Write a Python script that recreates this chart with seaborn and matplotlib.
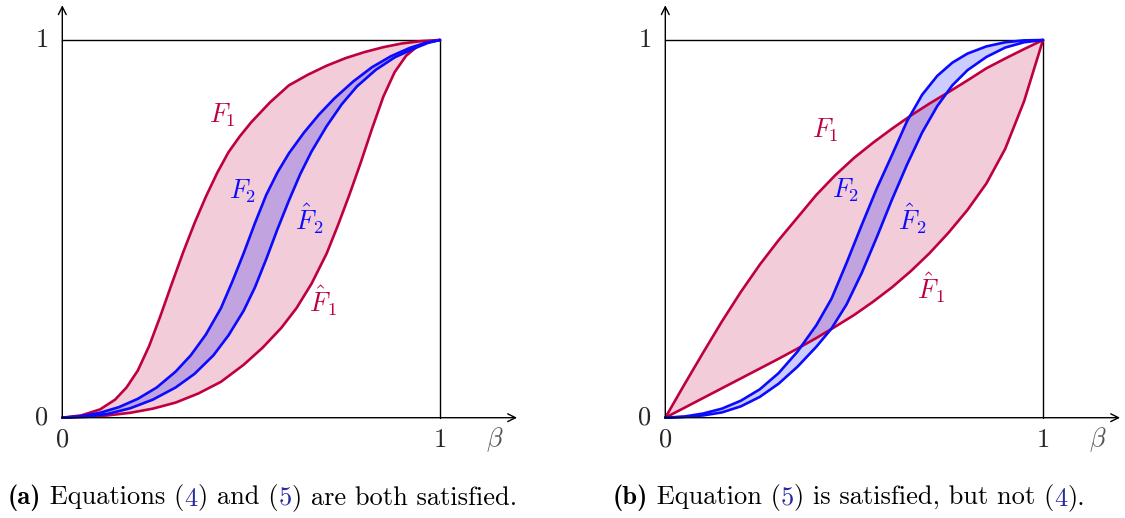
import matplotlib
matplotlib.use("Agg")
import matplotlib.pyplot as plt
import seaborn as sns

# curve points, (beta, F) pairs
# panel (a)
a_F1_x = [0, 0.05, 0.10, 0.14, 0.17, 0.20, 0.23, 0.26, 0.29, 0.32, 0.35, 0.38, 0.41, 0.44, 0.47, 0.50, 0.55, 0.60, 0.65, 0.70, 0.75, 0.80, 0.85, 0.90, 0.95, 1.0]
a_F1_y = [0, 0.006, 0.022, 0.048, 0.080, 0.125, 0.190, 0.270, 0.355, 0.438, 0.515, 0.585, 0.648, 0.703, 0.745, 0.782, 0.835, 0.880, 0.908, 0.932, 0.952, 0.968, 0.981, 0.991, 0.997, 1.0]
a_Fh1_x = [0, 0.06, 0.12, 0.18, 0.24, 0.30, 0.36, 0.42, 0.48, 0.53, 0.58, 0.62, 0.66, 0.70, 0.73, 0.76, 0.79, 0.82, 0.85, 0.88, 0.91, 0.94, 0.97, 1.0]
a_Fh1_y = [0, 0.002, 0.006, 0.013, 0.024, 0.040, 0.064, 0.095, 0.140, 0.185, 0.238, 0.290, 0.355, 0.435, 0.510, 0.590, 0.675, 0.765, 0.850, 0.915, 0.958, 0.983, 0.996, 1.0]
a_F2_x = [0, 0.05, 0.10, 0.15, 0.20, 0.25, 0.30, 0.34, 0.38, 0.42, 0.45, 0.48, 0.51, 0.54, 0.57, 0.60, 0.64, 0.68, 0.72, 0.77, 0.82, 0.87, 0.92, 0.96, 1.0]
a_F2_y = [0, 0.004, 0.013, 0.028, 0.050, 0.080, 0.122, 0.165, 0.220, 0.290, 0.360, 0.435, 0.515, 0.590, 0.650, 0.700, 0.755, 0.803, 0.845, 0.890, 0.928, 0.957, 0.979, 0.992, 1.0]
a_Fh2_x = [0, 0.06, 0.12, 0.18, 0.24, 0.30, 0.35, 0.40, 0.44, 0.48, 0.51, 0.54, 0.57, 0.60, 0.63, 0.66, 0.70, 0.74, 0.78, 0.83, 0.88, 0.93, 0.97, 1.0]
a_Fh2_y = [0, 0.003, 0.010, 0.025, 0.048, 0.080, 0.116, 0.165, 0.218, 0.283, 0.345, 0.420, 0.500, 0.575, 0.645, 0.705, 0.772, 0.830, 0.877, 0.921, 0.954, 0.977, 0.993, 1.0]

# panel (b)
b_F1_x = [0, 0.05, 0.10, 0.15, 0.20, 0.25, 0.30, 0.35, 0.40, 0.45, 0.50, 0.55, 0.60, 0.65, 0.70, 0.75, 0.80, 0.85, 0.90, 0.95, 1.0]
b_F1_y = [0, 0.087, 0.172, 0.255, 0.333, 0.405, 0.470, 0.530, 0.590, 0.642, 0.688, 0.728, 0.765, 0.800, 0.832, 0.862, 0.893, 0.925, 0.951, 0.976, 1.0]
b_Fh1_x = [0, 0.05, 0.10, 0.15, 0.20, 0.25, 0.30, 0.35, 0.40, 0.45, 0.50, 0.55, 0.60, 0.65, 0.70, 0.75, 0.80, 0.85, 0.90, 0.95, 1.0]
b_Fh1_y = [0, 0.026, 0.052, 0.078, 0.104, 0.130, 0.156, 0.183, 0.211, 0.241, 0.272, 0.307, 0.345, 0.388, 0.436, 0.490, 0.550, 0.620, 0.712, 0.838, 1.0]
b_F2_x = [0, 0.05, 0.10, 0.15, 0.20, 0.25, 0.30, 0.35, 0.40, 0.44, 0.48, 0.52, 0.56, 0.60, 0.64, 0.68, 0.72, 0.76, 0.80, 0.85, 0.90, 0.95, 1.0]
b_F2_y = [0, 0.003, 0.011, 0.024, 0.045, 0.075, 0.118, 0.175, 0.245, 0.315, 0.410, 0.510, 0.607, 0.695, 0.785, 0.855, 0.905, 0.940, 0.964, 0.983, 0.994, 0.999, 1.0]
b_Fh2_x = [0, 0.05, 0.10, 0.15, 0.20, 0.25, 0.30, 0.35, 0.40, 0.44, 0.48, 0.52, 0.56, 0.60, 0.64, 0.68, 0.72, 0.76, 0.80, 0.85, 0.90, 0.95, 1.0]
b_Fh2_y = [0, 0.002, 0.006, 0.014, 0.030, 0.055, 0.090, 0.135, 0.188, 0.236, 0.300, 0.383, 0.478, 0.577, 0.670, 0.755, 0.825, 0.880, 0.920, 0.955, 0.980, 0.994, 1.0]

tick_labels = ["0", "1"]
curve_names = [r"$F_1$", r"$F_2$", r"$\hat{F}_2$", r"$\hat{F}_1$"]
captions = [
    [("(a)", "b"), (" Equations (", "k"), ("4", "l"), (") and (", "k"), ("5", "l"), (") are both satisfied.", "k")],
    [("(b)", "b"), (" Equation (", "k"), ("5", "l"), (") is satisfied, but not (", "k"), ("4", "l"), (").", "k")],
]

crimson = "#bf0040"
blue = "#0a0aff"
link_blue = "#2a2aa0"

sns.set_theme(style="white")
plt.rcParams["mathtext.fontset"] = "cm"

W, H = 1125, 518
fig = plt.figure(figsize=(W / 100, H / 100), dpi=100)

unit = 377.7
xlo, xhi, ylo, yhi = -0.16, 1.22, -0.1, 1.1


def make_axes(x0_px, y0_px):
    left = x0_px + xlo * unit
    right = x0_px + xhi * unit
    bottom = y0_px - ylo * unit
    top = y0_px - yhi * unit
    ax = fig.add_axes([left / W, (H - bottom) / H, (right - left) / W, (bottom - top) / H])
    ax.set_xlim(xlo, xhi)
    ax.set_ylim(ylo, yhi)
    ax.axis("off")
    return ax


def draw_panel(ax, F1x, F1y, Fh1x, Fh1y, F2x, F2y, Fh2x, Fh2y, label_pos):
    # frame: arrows and the unit box
    arr = dict(arrowstyle="->", lw=1.0, color="black", shrinkA=0, shrinkB=0, mutation_scale=14)
    ax.annotate("", xy=(1.204, 0), xytext=(0, 0), arrowprops=arr)
    ax.annotate("", xy=(0, 1.092), xytext=(0, 0), arrowprops=arr)
    ax.plot([0, 1], [1, 1], color="black", lw=1.0)
    ax.plot([1, 1], [0, 1], color="black", lw=1.0)

    # pink band
    ax.fill(F1x + Fh1x[::-1], F1y + Fh1y[::-1], color=crimson, alpha=0.2, lw=0)
    sns.lineplot(x=F1x, y=F1y, sort=False, color=crimson, lw=1.9, ax=ax)
    sns.lineplot(x=Fh1x, y=Fh1y, sort=False, color=crimson, lw=1.9, ax=ax)
    # blue band
    ax.fill(F2x + Fh2x[::-1], F2y + Fh2y[::-1], color="#0000ff", alpha=0.2, lw=0)
    sns.lineplot(x=F2x, y=F2y, sort=False, color=blue, lw=1.9, ax=ax)
    sns.lineplot(x=Fh2x, y=Fh2y, sort=False, color=blue, lw=1.9, ax=ax)

    fs = 19
    ax.text(-0.038, 1, "$" + tick_labels[1] + "$", ha="right", va="center", fontsize=fs)
    ax.text(-0.038, 0, "$" + tick_labels[0] + "$", ha="right", va="center", fontsize=fs)
    ax.text(0, -0.058, "$" + tick_labels[0] + "$", ha="center", va="center", fontsize=fs)
    ax.text(1, -0.058, "$" + tick_labels[1] + "$", ha="center", va="center", fontsize=fs)
    ax.text(1.146, -0.058, r"$\beta$", ha="center", va="center", fontsize=fs, color="#555555")

    colors = [crimson, blue, blue, crimson]
    for name, (px, py), c in zip(curve_names, label_pos, colors):
        ax.text(px, py, name, ha="center", va="center", fontsize=fs, color=c)


ax_a = make_axes(62.3, 417.7)
draw_panel(ax_a, a_F1_x, a_F1_y, a_Fh1_x, a_Fh1_y, a_F2_x, a_F2_y, a_Fh2_x, a_Fh2_y,
           [(0.423, 0.80), (0.478, 0.60), (0.653, 0.528), (0.690, 0.31)])

ax_b = make_axes(665.3, 417.7)
draw_panel(ax_b, b_F1_x, b_F1_y, b_Fh1_x, b_Fh1_y, b_F2_x, b_F2_y, b_Fh2_x, b_Fh2_y,
           [(0.425, 0.761), (0.478, 0.602), (0.653, 0.528), (0.703, 0.345)])


def caption(x_px, pieces):
    # chain the pieces so each starts where the previous one ends
    prev = None
    for txt, kind in pieces:
        kw = dict(fontsize=19, family="cmb10" if kind == "b" else "cmr10",
                  color=link_blue if kind == "l" else "black")
        if prev is None:
            prev = fig.text(x_px / W, (H - 504) / H, txt, ha="left", va="baseline", **kw)
        else:
            prev = ax_a.annotate(txt, xy=(1, 0), xycoords=prev, ha="left", va="bottom",
                                 annotation_clip=False, **kw)


caption(8, captions[0])
caption(613, captions[1])

fig.savefig("out.png", dpi=100)
